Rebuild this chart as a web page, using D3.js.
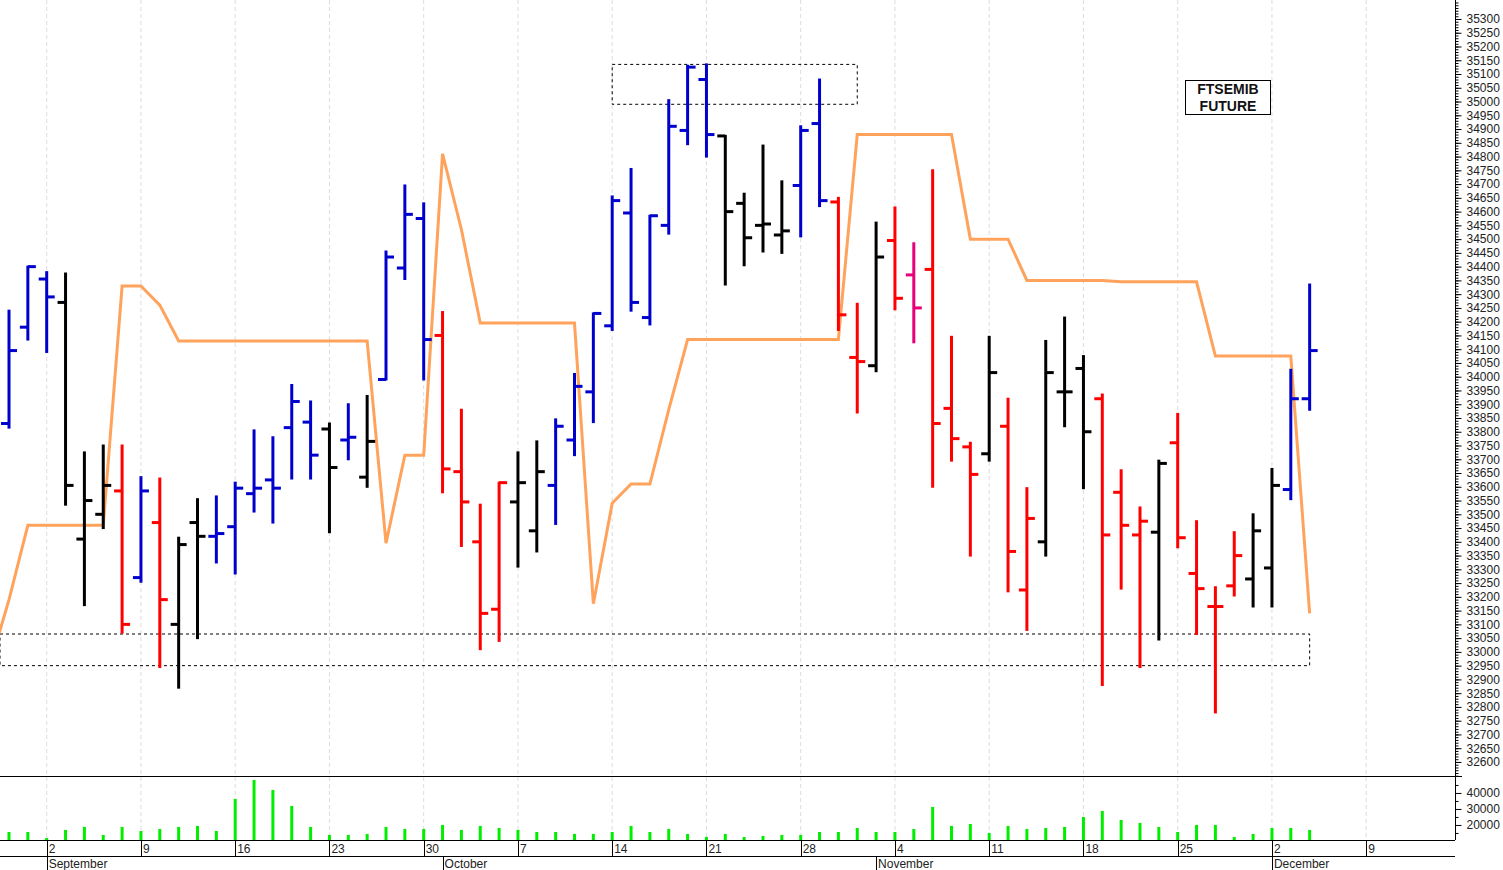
<!DOCTYPE html>
<html>
<head>
<meta charset="utf-8">
<script src="https://cdn.jsdelivr.net/npm/d3@7"></script>
<style>
  body { margin: 0; background: #fff; }
  text { font-family: "Liberation Sans", Arial, sans-serif; }
</style>
</head>
<body>
<svg id="chart" width="1503" height="870"></svg>
<script>
"use strict";

// daily OHLC, index 0 = 29 Aug
const opens  = [33830,34180,34355,34270,33410,33500,33585,33270,33470,33100,33470,33420,33455,33575,33625,33815,33835,33810,33770,33635,
                33990,34395,34575,34150,33655,33400,33155,33545,33440,33605,33770,33945,34185,34595,34215,34550,34895,35080,34875,34630,
                34550,34515,34695,34920,34635,34070,34040,34495,34370,34390,33885,33745,33720,33820,33225,33400,33945,34030,33920,33580,
                33425,33435,33760,33285,33165,33240,33265,33305,33590,33920];
const highs  = [34240,34400,34380,34375,33725,33750,33750,33635,33630,33415,33555,33565,33615,33805,33780,33970,33910,33830,33900,33930,
                34455,34695,34630,34235,33880,33535,33615,33725,33765,33845,34010,34230,34655,34755,34585,35005,35130,35135,34875,34665,
                34840,34710,34910,35080,34650,34265,34560,34615,34485,34750,34145,33760,34145,33920,33595,34130,34215,34075,33935,33660,
                33525,33695,33865,33475,33235,33435,33500,33665,34025,34335];
const lows   = [33815,34135,34090,33535,33170,33450,33070,33255,32945,32870,33050,33325,33285,33510,33470,33630,33630,33435,33700,33600,
                33990,34355,33990,33580,33385,33010,33040,33310,33365,33465,33715,33835,34170,34240,34190,34520,34845,34800,34335,34405,
                34455,34450,34510,34620,34170,33870,34020,34245,34125,33600,33695,33350,33695,33220,33080,33350,33820,33595,32880,33230,
                32945,33045,33380,33065,32780,33205,33165,33165,33555,33880];
const closes = [34095,34400,34290,33605,33550,33605,33100,33585,33190,33390,33420,33430,33595,33595,33595,33910,33715,33670,33780,33765,
                34435,34590,34135,33665,33545,33140,33615,33615,33655,33820,33965,34230,34640,34270,34585,34910,35125,34880,34600,34505,
                34555,34530,34895,34640,34225,34055,34435,34285,34250,33830,33775,33645,34015,33365,33485,34015,33945,33800,33425,33460,
                33475,33685,33415,33230,33165,33350,33440,33605,33920,34095];
const tones  = ["b","b","b","k","k","k","r","b","r","k","k","b","b","b","b","b","b","k","b","k",
                "b","b","b","r","r","r","r","k","k","b","b","b","b","b","b","b","b","b","k","k",
                "k","k","b","b","r","r","k","r","p","r","r","r","k","r","r","k","k","k","r","r",
                "r","k","r","r","r","r","k","k","b","b"];
const volumes = [15600,15600,11900,16900,18750,13750,18750,16250,17500,18750,19400,16250,36250,48100,41900,31900,18750,13750,13750,14400,
                 18750,17500,17500,20000,16900,19400,18100,16900,15600,15600,14400,14400,15600,19400,15600,17500,14400,12500,14400,12500,
                 13100,13750,13750,15600,15600,18100,15600,15600,17500,31250,19400,20600,15000,19400,17500,18100,18750,25000,28750,23100,
                 21250,18750,15600,20000,20000,12500,14400,18100,18100,16900];
// orange stop line, index -1 .. 69
const stopLine = [32955,33190,33460,33460,33460,33460,33460,34330,34330,34260,
                  34130,34130,34130,34130,34130,34130,34130,34130,34130,34130,34130,
                  33395,33715,33715,34810,34535,34195,34195,34195,34195,34195,34195,
                  33175,33540,33610,33610,33880,34135,34135,34135,34135,34135,34135,34135,34135,34135,
                  34880,34880,34880,34880,34880,34880,34500,34500,34500,
                  34350,34350,34350,34350,34350,34345,34345,34345,34345,34345,
                  34075,34075,34075,34075,34075,33140];
// dashed zones [fromIdx, toIdx, low, high]
const zones = [[32, 45, 34990, 35135], [-1.5, 69, 32950, 33065]];

const weekIdx = [2,7,12,17,22,27,32,37,42,47,52,57,62,67,72];
const weekLabels = ["2","9","16","23","30","7","14","21","28","4","11","18","25","2","9"];
const monthIdx = [2,23,46,67];
const monthLabels = ["September","October","November","December"];

const toneColor = { b: "#0000cc", k: "#000000", r: "#ff0000", p: "#e8007a" };

const svg = d3.select("#chart");
const right = 1455, priceBottom = 776, volBottom = 840, dateBottom = 856;

const x = d3.scaleLinear().domain([0, 1]).range([9, 27.85]);
const y = d3.scaleLinear().domain([32549, 35369]).range([priceBottom, 0]);
const yv = d3.scaleLinear().domain([10600, 50600]).range([volBottom, priceBottom]);

svg.append("defs").append("clipPath").attr("id", "plot")
  .append("rect").attr("x", 0).attr("y", 0).attr("width", right).attr("height", priceBottom);

// grid
svg.append("g").selectAll("line").data(weekIdx).join("line")
  .attr("x1", d => x(d)).attr("x2", d => x(d)).attr("y1", 0).attr("y2", volBottom)
  .attr("stroke", "#dcdcdc").attr("stroke-dasharray", "4,3");

const plot = svg.append("g").attr("clip-path", "url(#plot)");

// zones
plot.selectAll("rect.zone").data(zones).join("rect")
  .attr("x", d => Math.max(x(d[0]), 0)).attr("y", d => y(d[3]))
  .attr("width", d => x(d[1]) - Math.max(x(d[0]), 0)).attr("height", d => y(d[2]) - y(d[3]))
  .attr("fill", "none").attr("stroke", "#000").attr("stroke-dasharray", "3,3").attr("stroke-width", 1);

// stop line
plot.append("path")
  .datum(stopLine)
  .attr("fill", "none").attr("stroke", "#ffa35c").attr("stroke-width", 3)
  .attr("d", d3.line().x((d, i) => x(i - 1)).y(d => y(d)));

// OHLC bars
const bars = plot.append("g").selectAll("g").data(d3.range(opens.length)).join("g")
  .attr("stroke", i => toneColor[tones[i]]).attr("stroke-width", 3);
bars.append("line").attr("x1", i => x(i)).attr("x2", i => x(i))
  .attr("y1", i => y(highs[i]) - 1).attr("y2", i => y(lows[i]) + 1);
bars.append("line").attr("x1", i => x(i) - 8).attr("x2", i => x(i))
  .attr("y1", i => y(opens[i])).attr("y2", i => y(opens[i]));
bars.append("line").attr("x1", i => x(i)).attr("x2", i => x(i) + 8)
  .attr("y1", i => y(closes[i])).attr("y2", i => y(closes[i]));

// volume
svg.append("g").selectAll("line").data(volumes).join("line")
  .attr("x1", (d, i) => x(i)).attr("x2", (d, i) => x(i))
  .attr("y1", volBottom).attr("y2", d => yv(d))
  .attr("stroke", "#00ee00").attr("stroke-width", 3);

// frame lines
const frame = svg.append("g").attr("stroke", "#000").attr("stroke-width", 1);
frame.append("line").attr("x1", 0).attr("x2", right + 7).attr("y1", priceBottom + 0.5).attr("y2", priceBottom + 0.5);
frame.append("line").attr("x1", 0).attr("x2", right).attr("y1", volBottom + 0.5).attr("y2", volBottom + 0.5);
frame.append("line").attr("x1", 0).attr("x2", right).attr("y1", dateBottom + 0.5).attr("y2", dateBottom + 0.5);

// price axis
const ay = svg.append("g").attr("transform", `translate(${right + 0.5},0)`)
  .call(d3.axisRight(y).tickValues(d3.range(32600, 35301, 50)).tickSize(6).tickPadding(5).tickFormat(d3.format("d")));
ay.select(".domain").attr("d", `M0,0V${volBottom}`);
ay.selectAll("text").attr("font-size", 12).attr("fill", "#222");
svg.append("g").attr("transform", `translate(${right + 0.5},0)`)
  .call(d3.axisRight(y).tickValues(d3.range(32550, 35370, 10)).tickSize(3).tickFormat(""))
  .select(".domain").remove();

// volume axis
const av = svg.append("g").attr("transform", `translate(${right + 0.5},0)`)
  .call(d3.axisRight(yv).tickValues([20000, 30000, 40000]).tickSize(6).tickPadding(5).tickFormat(d3.format("d")));
av.select(".domain").remove();
av.selectAll("text").attr("font-size", 12).attr("fill", "#222");
svg.append("g").attr("transform", `translate(${right + 0.5},0)`)
  .call(d3.axisRight(yv).tickValues([15000, 25000, 35000, 45000]).tickSize(3).tickFormat(""))
  .select(".domain").remove();

// date axis
const dates = svg.append("g");
dates.selectAll("line").data(weekIdx).join("line")
  .attr("x1", d => Math.round(x(d)) + 0.5).attr("x2", d => Math.round(x(d)) + 0.5)
  .attr("y1", volBottom).attr("y2", dateBottom).attr("stroke", "#000");
dates.selectAll("text").data(weekIdx).join("text")
  .attr("x", d => x(d) + 2).attr("y", dateBottom - 3)
  .attr("font-size", 12).attr("fill", "#222").text((d, i) => weekLabels[i]);
const months = svg.append("g");
months.selectAll("line").data(monthIdx).join("line")
  .attr("x1", d => Math.round(x(d)) + 0.5).attr("x2", d => Math.round(x(d)) + 0.5)
  .attr("y1", dateBottom).attr("y2", 870).attr("stroke", "#000");
months.selectAll("text").data(monthIdx).join("text")
  .attr("x", d => x(d) + 2).attr("y", 868)
  .attr("font-size", 12).attr("fill", "#222").text((d, i) => monthLabels[i]);

// title box
const title = svg.append("g").attr("transform", "translate(1185,80)");
title.append("rect").attr("x", 0.5).attr("y", 0.5).attr("width", 85).attr("height", 34)
  .attr("fill", "#fff").attr("stroke", "#000");
title.selectAll("text").data(["FTSEMIB", "FUTURE"]).join("text")
  .attr("x", 43).attr("y", (d, i) => 14 + i * 17).attr("text-anchor", "middle")
  .attr("font-family", "DejaVu Sans Mono").attr("font-weight", "bold").attr("font-size", 14)
  .attr("fill", "#111").text(d => d);
</script>
</body>
</html>
